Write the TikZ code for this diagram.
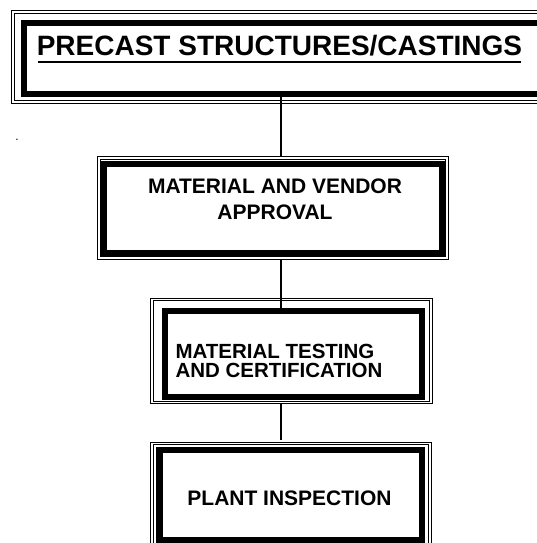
\documentclass[tikz,border=0pt]{standalone}
\usepackage{fontspec}
\setmainfont{Liberation Sans}
\begin{document}
\begin{tikzpicture}[x=1pt,y=-1pt,
  outerframe/.style={draw=black, line width=1pt, inner sep=0pt, outer sep=0pt},
  thinframe/.style={draw=black, line width=0.8pt},
  thickframe/.style={draw=black, line width=6pt},
  conn/.style={draw=black, line width=1.5pt},
  lbl/.style={inner sep=0pt, outer sep=0pt},
  boxfont/.style={font=\bfseries\fontsize{21}{26}\selectfont}]
\useasboundingbox (0,0) rectangle (537,543);
\clip (0,0) rectangle (537,543);
\fill[white] (0,0) rectangle (537,543);

% box 1
\node[outerframe, minimum width=549pt, minimum height=93pt] (b1) at (285.5,57) {};
\draw[thinframe] (14,13.5) rectangle (557,100.5);
\draw[thickframe] (24,23.5) rectangle (547,94);
\node[lbl, anchor=base, font=\bfseries\fontsize{28}{34}\selectfont] (t1) at (279.5,56) {PRECAST STRUCTURES/CASTINGS};
\draw[line width=2pt] ([yshift=-6pt,xshift=1.5pt]t1.base west) -- ([yshift=-6pt,xshift=-1pt]t1.base east);

% box 2
\node[outerframe, minimum width=350.5pt, minimum height=102.5pt] (b2) at (272.75,207.75) {};
\draw[thinframe, line width=0.5pt] (99.8,158.8) rectangle (445.7,256.7);
\draw[thickframe] (104,163.5) rectangle (441.5,252.5);
\node[lbl, boxfont, anchor=north, align=center] (t2) at (275,179) {MATERIAL AND VENDOR\\APPROVAL};

% box 3
\node[outerframe, minimum width=281.8pt, minimum height=105.5pt] (b3) at (291.6,350.75) {};
\draw[thinframe] (153.3,300.6) rectangle (429.8,401);
\draw[thickframe] (164.5,310.5) rectangle (422,396.5);
\node[lbl, font=\bfseries\fontsize{20.5}{18.5}\selectfont, anchor=north west, align=left] (t3) at (175.5,344.5) {MATERIAL TESTING\\AND CERTIFICATION};

% box 4
\node[outerframe, minimum width=280.3pt, minimum height=118pt] (b4) at (290.85,501) {};
\draw[thinframe] (153.3,444.5) rectangle (428.3,558);
\draw[thickframe, line width=6.5pt] (159.5,450) rectangle (422,540);
\node[lbl, boxfont, anchor=base] (t4) at (289.5,505) {PLANT INSPECTION};

% stray dot
\node[lbl, anchor=base, font=\fontsize{12}{14}\selectfont] (dot) at (17,140) {.};

% connectors
\coordinate (lx) at (281,0);
\draw[conn] (b1.south -| lx) ++(0,-11) -- (b2.north -| lx);
\draw[conn] (b2.south -| lx) -- (b3.north -| lx) -- ++(0,10);
\draw[conn] (b3.south -| lx) -- ([yshift=2pt]b4.north -| lx);
\end{tikzpicture}
\end{document}
